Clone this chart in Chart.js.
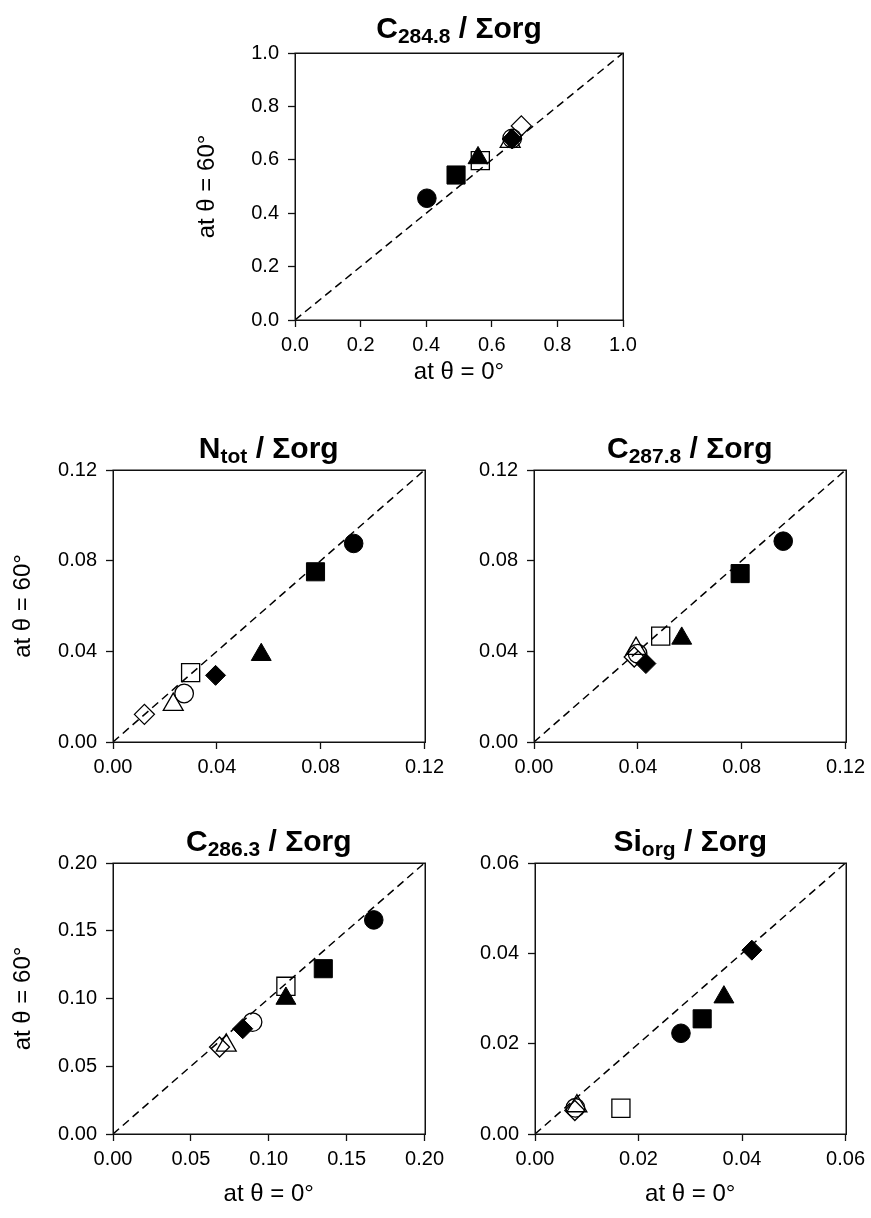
<!DOCTYPE html>
<html>
<head>
<meta charset="utf-8">
<script src="https://cdn.jsdelivr.net/npm/chart.js@4.4.1/dist/chart.umd.min.js"></script>
<style>
  html, body { margin: 0; padding: 0; background: #fff; }
  #fig { position: relative; width: 871px; height: 1218px; overflow: hidden; background: #fff; }
  #fig canvas { position: absolute; }
</style>
</head>
<body>
<div id="fig"></div>
<script>
const FONT = "'Liberation Sans', Arial, Helvetica, sans-serif";

// Symbol order used in every panel: filled circle, square, triangle, diamond, then the open versions
const markerStyles = ['circle', 'rect', 'triangle', 'rectRot', 'circle', 'rect', 'triangle', 'rectRot'];
const markerFilled = [true, true, true, true, false, false, false, false];

// C284.8 / Σorg
const c2848X = [0.402, 0.491, 0.558, 0.662, 0.662, 0.565, 0.656, 0.690];
const c2848Y = [0.456, 0.543, 0.607, 0.678, 0.680, 0.597, 0.668, 0.727];
const c2848Ticks = [0.0, 0.2, 0.4, 0.6, 0.8, 1.0];

// Ntot / Σorg
const ntotX = [0.0927, 0.0780, 0.0571, 0.0395, 0.0274, 0.0299, 0.0232, 0.0121];
const ntotY = [0.0876, 0.0751, 0.0385, 0.0294, 0.0214, 0.0306, 0.0165, 0.0122];
const ntotTicks = [0.00, 0.04, 0.08, 0.12];

// C287.8 / Σorg
const c2878X = [0.0960, 0.0794, 0.0569, 0.0431, 0.0399, 0.0488, 0.0393, 0.0386];
const c2878Y = [0.0886, 0.0743, 0.0457, 0.0346, 0.0390, 0.0467, 0.0412, 0.0375];
const c2878Ticks = [0.00, 0.04, 0.08, 0.12];

// C286.3 / Σorg
const c2863X = [0.1674, 0.1350, 0.1110, 0.0833, 0.0896, 0.1110, 0.0727, 0.0684];
const c2863Y = [0.1580, 0.1220, 0.1000, 0.0777, 0.0826, 0.1090, 0.0654, 0.0642];
const c2863Ticks = [0.00, 0.05, 0.10, 0.15, 0.20];

// Siorg / Σorg
const siorgX = [0.0282, 0.0323, 0.0365, 0.0419, 0.0078, 0.0166, 0.0081, 0.0077];
const siorgY = [0.0223, 0.0255, 0.0303, 0.0407, 0.0058, 0.0057, 0.0062, 0.0052];
const siorgTicks = [0.00, 0.02, 0.04, 0.06];

const xTitle = 'at θ = 0°';
const yTitle = 'at θ = 60°';

// Panel layout: canvas box and plot area, in page pixels
const panels = [
  { main: 'C', sub: '284.8', xs: c2848X, ys: c2848Y, ticks: c2848Ticks, dec: 1,
    canvas: { x: 170, y: 0, w: 500, h: 400 }, area: { l: 295, t: 53, r: 623, b: 320 },
    showX: true, showY: true, yTitleX: 37, xTitleY: 372, titleGap: 15 },
  { main: 'N', sub: 'tot', xs: ntotX, ys: ntotY, ticks: ntotTicks, dec: 2,
    canvas: { x: 0, y: 400, w: 450, h: 385 }, area: { l: 113, t: 470, r: 426, b: 742 },
    showX: false, showY: true, yTitleX: 23, titleGap: 12 },
  { main: 'C', sub: '287.8', xs: c2878X, ys: c2878Y, ticks: c2878Ticks, dec: 2,
    canvas: { x: 450, y: 400, w: 421, h: 385 }, area: { l: 534, t: 470, r: 847, b: 742 },
    showX: false, showY: false, titleGap: 12 },
  { main: 'C', sub: '286.3', xs: c2863X, ys: c2863Y, ticks: c2863Ticks, dec: 2,
    canvas: { x: 0, y: 790, w: 450, h: 428 }, area: { l: 113, t: 863, r: 426, b: 1134 },
    showX: true, showY: true, yTitleX: 23, xTitleY: 1194, titleGap: 12 },
  { main: 'Si', sub: 'org', xs: siorgX, ys: siorgY, ticks: siorgTicks, dec: 2,
    canvas: { x: 450, y: 790, w: 421, h: 428 }, area: { l: 535, t: 863, r: 847, b: 1134 },
    showX: true, showY: false, xTitleY: 1194, titleGap: 12 }
];

const TICK_SIZE = 20;
const AXIS_TITLE_SIZE = 24;
const TITLE_SIZE = 30;
const SUB_SIZE = 21;

// Box around the plot area
const frame = {
  id: 'frame',
  afterDatasetsDraw(chart) {
    const { ctx, chartArea: a } = chart;
    ctx.save();
    ctx.strokeStyle = '#111';
    ctx.lineWidth = 1.5;
    ctx.strokeRect(Math.round(a.left) + 0.25, Math.round(a.top) + 0.25, Math.round(a.right - a.left), Math.round(a.bottom - a.top));
    ctx.restore();
  }
};

// Bold title with a subscript, centred over the plot area
const panelTitle = {
  id: 'panelTitle',
  afterDraw(chart, args, opts) {
    const { ctx, chartArea: a } = chart;
    const big = `bold ${TITLE_SIZE}px ${FONT}`;
    const small = `bold ${SUB_SIZE}px ${FONT}`;
    const rest = ' / Σorg';
    ctx.save();
    ctx.fillStyle = '#000';
    ctx.textBaseline = 'alphabetic';
    ctx.textAlign = 'left';
    ctx.font = big; const w1 = ctx.measureText(opts.main).width;
    ctx.font = small; const w2 = ctx.measureText(opts.sub).width;
    ctx.font = big; const w3 = ctx.measureText(rest).width;
    let x = (a.left + a.right) / 2 - (w1 + w2 + w3) / 2;
    const y = a.top - opts.gap;
    ctx.font = big; ctx.fillText(opts.main, x, y); x += w1;
    ctx.font = small; ctx.fillText(opts.sub, x, y + 5); x += w2;
    ctx.font = big; ctx.fillText(rest, x, y);
    ctx.restore();
  }
};

const fig = document.getElementById('fig');

panels.forEach(p => {
  const cv = document.createElement('canvas');
  cv.width = p.canvas.w;
  cv.height = p.canvas.h;
  cv.style.left = p.canvas.x + 'px';
  cv.style.top = p.canvas.y + 'px';
  cv.style.width = p.canvas.w + 'px';
  cv.style.height = p.canvas.h + 'px';
  fig.appendChild(cv);

  const lo = p.ticks[0];
  const hi = p.ticks[p.ticks.length - 1];

  const markers = markerStyles.map((style, i) => ({
    type: 'scatter',
    data: [{ x: p.xs[i], y: p.ys[i] }],
    pointStyle: style,
    pointRadius: style === 'circle' ? 9.3 : style === 'rect' ? 12.8 : style === 'triangle' ? 11.5 : 10,
    pointBackgroundColor: markerFilled[i] ? '#000' : 'rgba(0,0,0,0)',
    pointBorderColor: '#000',
    pointBorderWidth: markerFilled[i] ? 1 : 1.3,
    order: 0
  }));

  const diagonal = {
    type: 'line',
    data: [{ x: lo, y: lo }, { x: hi, y: hi }],
    borderColor: '#000',
    borderWidth: 1.5,
    borderDash: [8, 5],
    pointRadius: 0,
    fill: false,
    order: 1
  };

  const leftW = p.area.l - p.canvas.x;
  const bottomH = p.canvas.y + p.canvas.h - p.area.b;
  const padTop = p.area.t - p.canvas.y;
  const padRight = p.canvas.x + p.canvas.w - p.area.r;
  const half = AXIS_TITLE_SIZE * 1.2 / 2;

  const axisCommon = {
    type: 'linear',
    min: lo,
    max: hi,
    afterBuildTicks: s => { s.ticks = p.ticks.map(v => ({ value: v })); },
    border: { display: false },
    grid: { display: true, drawOnChartArea: false, drawTicks: true, tickLength: 7, tickColor: '#111', tickWidth: 1.3 }
  };

  new Chart(cv, {
    type: 'scatter',
    data: { datasets: [...markers, diagonal] },
    options: {
      responsive: false,
      animation: false,
      devicePixelRatio: 1,
      layout: { padding: { top: padTop, right: padRight, left: 0, bottom: 0 } },
      plugins: {
        legend: { display: false },
        tooltip: { enabled: false },
        panelTitle: { main: p.main, sub: p.sub, gap: p.titleGap }
      },
      scales: {
        x: Object.assign({}, axisCommon, {
          position: 'bottom',
          afterFit: s => { s.height = bottomH; },
          ticks: { callback: v => Number(v).toFixed(p.dec), font: { family: FONT, size: TICK_SIZE }, color: '#000', padding: 6, maxRotation: 0, autoSkip: false },
          title: {
            display: p.showX, text: xTitle, color: '#000',
            font: { family: FONT, size: AXIS_TITLE_SIZE },
            padding: { top: 0, bottom: p.showX ? (p.canvas.y + p.canvas.h - p.xTitleY - half) : 0 }
          }
        }),
        y: Object.assign({}, axisCommon, {
          position: 'left',
          afterFit: s => { s.width = leftW; },
          ticks: { callback: v => Number(v).toFixed(p.dec), font: { family: FONT, size: TICK_SIZE }, color: '#000', padding: 9, autoSkip: false },
          title: {
            display: p.showY, text: yTitle, color: '#000',
            font: { family: FONT, size: AXIS_TITLE_SIZE },
            padding: { top: p.showY ? (p.yTitleX - half) : 0, bottom: 0 }
          }
        })
      }
    },
    plugins: [frame, panelTitle]
  });
});
</script>
</body>
</html>
